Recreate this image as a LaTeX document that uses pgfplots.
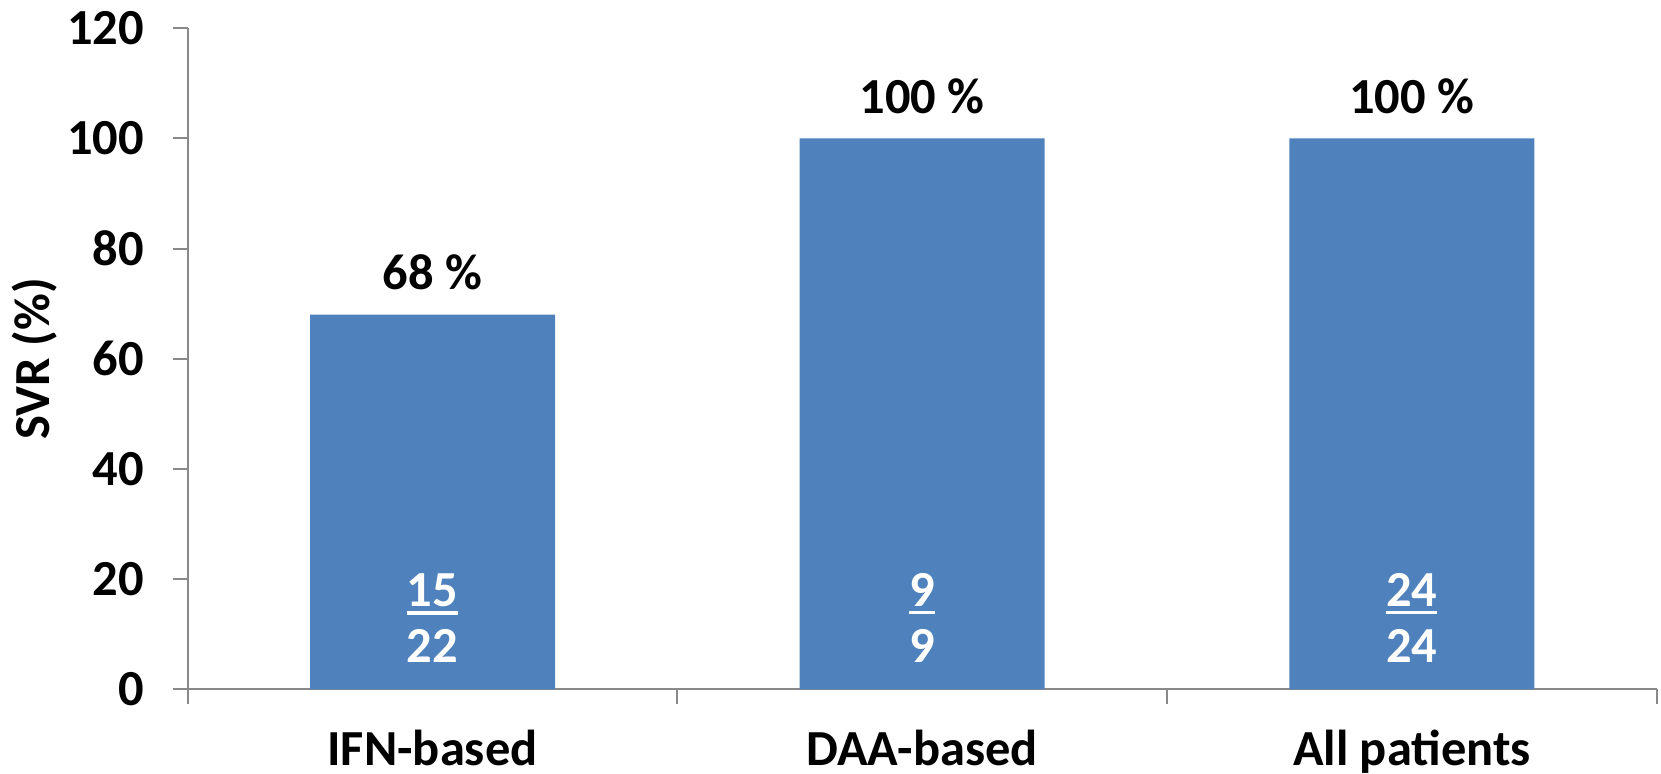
\documentclass[border=0pt]{standalone}
\usepackage{fontspec}
\setmainfont{Carlito}
\usepackage{pgfplots}
\usepackage{pgfplotstable}
\pgfplotsset{compat=1.18}
\definecolor{barblue}{HTML}{4F81BD}
\definecolor{axisgray}{HTML}{898989}
% numerator with a bar below it
\newcommand\ulnum[1]{\vtop{\hbox{#1}\kern4pt\hrule height 3.5pt}}
\newcommand\chartfont{\fontsize{50.5}{60}\selectfont\bfseries}

% SVR per treatment group (%)
\pgfplotstableread{
x   svr
0.5 68
1.5 100
2.5 100
}\svrdata

% responders / patients, with the heights at which they are written
\pgfplotstableread{
x   ynum num yden den
0.5 15   15  4.8  22
1.5 15   9   4.8  9
2.5 15   24  4.8  24
}\countdata

\begin{document}
\begin{tikzpicture}
\path[use as bounding box] (0,0) rectangle (1661pt,773pt);
\begin{axis}[
  at={(187.7pt,83.7pt)}, anchor=south west,
  width=1469pt, height=661pt, scale only axis,
  xmin=0, xmax=3, ymin=0, ymax=120,
  axis lines*=left,
  axis line style={axisgray, line width=2pt},
  xtick={0,1,2,3},
  xticklabels={IFN-based,DAA-based,All patients},
  x tick label as interval,
  ytick={0,20,...,120},
  tick align=outside,
  major tick length=15pt,
  tick style={axisgray, line width=2pt},
  ticklabel style={font=\chartfont},
  yticklabel style={xshift=-25pt},
  xticklabel style={yshift=-22pt},
  /pgf/number format/assume math mode=true,
  ylabel={SVR (\%)},
  ylabel style={font=\chartfont, at={(axis description cs:-0.104,0.5)}, anchor=center},
  clip=false,
]
\addplot[ybar, bar width=245pt, fill=barblue, draw=none,
  nodes near coords={\pgfmathprintnumber{\pgfplotspointmeta}~\%},
  nodes near coords style={font=\chartfont, black, anchor=base, inner sep=0pt, yshift=25pt},
] table[x=x, y=svr] {\svrdata};

\addplot[draw=none, mark=none, point meta=explicit symbolic,
  nodes near coords={\ulnum{\pgfplotspointmeta}},
  nodes near coords style={font=\chartfont, white, anchor=base, inner sep=0pt},
] table[x=x, y=ynum, meta=num] {\countdata};

\addplot[draw=none, mark=none, point meta=explicit symbolic,
  nodes near coords={\pgfplotspointmeta},
  nodes near coords style={font=\chartfont, white, anchor=base, inner sep=0pt},
] table[x=x, y=yden, meta=den] {\countdata};
\end{axis}
\end{tikzpicture}
\end{document}
